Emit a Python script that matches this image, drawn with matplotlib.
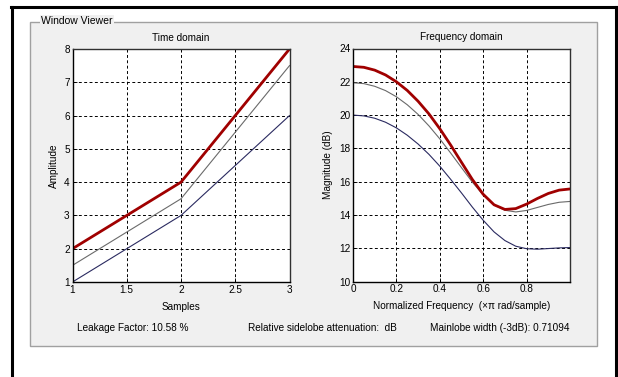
import matplotlib
matplotlib.use("Agg")
import matplotlib.pyplot as plt
from matplotlib.patches import Rectangle
from matplotlib.lines import Line2D

plt.rcParams['font.family'] = ['Liberation Sans', 'DejaVu Sans']

# ---- data ----
samples = [1, 2, 3]
time_red = [2, 4, 8]
time_gray = [1.5, 3.5, 7.5]
time_navy = [1, 3, 6]

freq = [0.0, 0.05, 0.1, 0.15, 0.2, 0.25, 0.3, 0.35, 0.4, 0.45, 0.5,
        0.55, 0.6, 0.65, 0.7, 0.75, 0.8, 0.85, 0.9, 0.95, 1.0]
mag_red = [22.92, 22.87, 22.70, 22.41, 22.00, 21.48, 20.83, 20.07, 19.18, 18.20, 17.16,
           16.13, 15.24, 14.61, 14.33, 14.38, 14.65, 14.99, 15.29, 15.49, 15.56]
mag_gray = [21.94, 21.89, 21.73, 21.47, 21.10, 20.62, 20.04, 19.35, 18.57, 17.72, 16.84,
            15.97, 15.20, 14.61, 14.28, 14.18, 14.27, 14.45, 14.63, 14.76, 14.81]
mag_navy = [20.00, 19.95, 19.81, 19.57, 19.23, 18.79, 18.26, 17.64, 16.93, 16.14, 15.32,
            14.47, 13.68, 12.98, 12.46, 12.12, 11.97, 11.94, 11.98, 12.02, 12.04]

time_yticks = [1, 2, 3, 4, 5, 6, 7, 8]
time_xticks = [1, 1.5, 2, 2.5, 3]
freq_xticks = [0, 0.2, 0.4, 0.6, 0.8]
freq_yticks = [10, 12, 14, 16, 18, 20, 22, 24]

W, H = 618, 377
FS = 7.2
fig = plt.figure(figsize=(W / 100, H / 100), dpi=100)
fig.patch.set_facecolor('white')


def fx(px):
    return px / W


def fy(py):
    return 1 - py / H


# outer black frame (left, top, right)
fig.add_artist(Line2D([fx(11.5), fx(11.5)], [fy(7), fy(377)], color='black', lw=2.2, zorder=-4))
fig.add_artist(Line2D([fx(11), fx(616)], [fy(7), fy(7)], color='black', lw=2.2, zorder=-4))
fig.add_artist(Line2D([fx(615.5), fx(615.5)], [fy(7), fy(377)], color='black', lw=2.2, zorder=-4))

# group box panel
fig.add_artist(Rectangle((fx(30), fy(346)), fx(597) - fx(30), fy(22) - fy(346),
                         facecolor='#f0f0f0', edgecolor='#a0a0a0', lw=1.0, zorder=-5))
fig.text(fx(41), fy(21), 'Window Viewer', fontsize=7.5, va='center', ha='left', color='black',
         bbox=dict(facecolor='#f0f0f0', edgecolor='none', pad=1.0), zorder=-3)

red_c = '#a00000'
gray_c = '#6a6a6a'
navy_c = '#2a2a60'

ax1 = fig.add_axes([fx(72.5), fy(282), fx(289.5) - fx(72.5), fy(49) - fy(282)])
ax2 = fig.add_axes([fx(353), fy(281.5), fx(570) - fx(353), fy(48.5) - fy(281.5)])

ax1.plot(samples, time_navy, color=navy_c, lw=0.8)
ax1.plot(samples, time_gray, color=gray_c, lw=0.8)
ax1.plot(samples, time_red, color=red_c, lw=2.0)
ax1.set_xlim(1, 3)
ax1.set_ylim(1, 8)
ax1.set_xticks(time_xticks)
ax1.set_xticklabels(['1', '1.5', '2', '2.5', '3'])
ax1.set_yticks(time_yticks)
ax1.set_title('Time domain', fontsize=FS, pad=6)
ax1.set_xlabel('Samples', fontsize=FS, labelpad=5)
ax1.set_ylabel('Amplitude', fontsize=FS, labelpad=4)

ax2.plot(freq, mag_navy, color=navy_c, lw=0.8)
ax2.plot(freq, mag_gray, color=gray_c, lw=0.8)
ax2.plot(freq, mag_red, color=red_c, lw=2.0)
ax2.set_xlim(0, 1)
ax2.set_ylim(10, 24)
ax2.set_xticks(freq_xticks)
ax2.set_xticklabels(['0', '0.2', '0.4', '0.6', '0.8'])
ax2.set_yticks(freq_yticks)
ax2.set_title('Frequency domain', fontsize=FS, pad=6)
ax2.set_xlabel('Normalized Frequency  (\u00d7\u03c0 rad/sample)', fontsize=FS, labelpad=5)
ax2.set_ylabel('Magnitude (dB)', fontsize=FS, labelpad=4)

for ax in (ax1, ax2):
    ax.set_zorder(2)
    ax.set_facecolor('white')
    ax.grid(True, color='black', linestyle=(0, (3, 2.5)), lw=0.7)
    ax.tick_params(direction='in', length=3, labelsize=FS, pad=2, width=0.6)
    for s in ('left', 'bottom'):
        ax.spines[s].set_color('black')
        ax.spines[s].set_linewidth(1.0)
    for s in ('top', 'right'):
        ax.spines[s].set_color('#303030')
        ax.spines[s].set_linewidth(1.0)

fig.text(fx(77), fy(328), 'Leakage Factor: 10.58 %', fontsize=FS, va='center', ha='left')
fig.text(fx(248), fy(328), 'Relative sidelobe attenuation:  dB', fontsize=FS, va='center', ha='left')
fig.text(fx(569), fy(328), 'Mainlobe width (-3dB): 0.71094', fontsize=FS, va='center', ha='right')

fig.savefig('out.png', dpi=100, facecolor='white')
